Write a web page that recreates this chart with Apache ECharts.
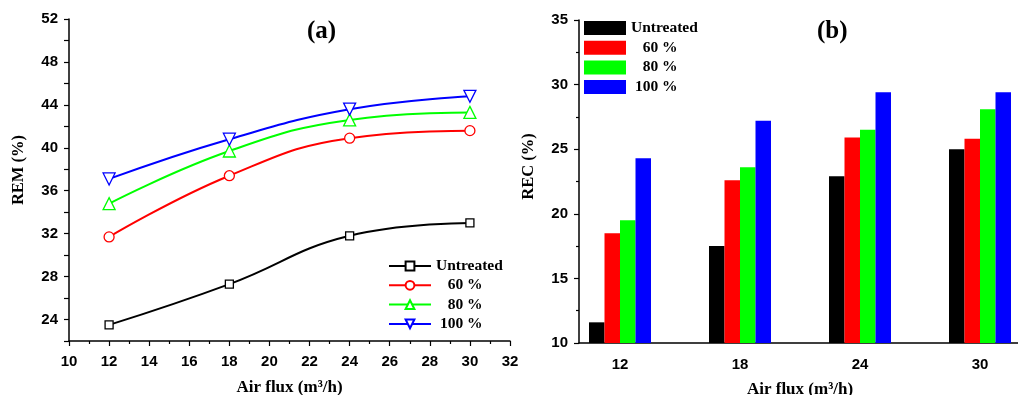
<!DOCTYPE html>
<html>
	<head>
		<meta charset="utf-8">
		<title></title>
		<script src="https://cdn.jsdelivr.net/npm/echarts@6/dist/echarts.min.js"></script>
		<style>
			body{margin:0;background:#fff;}
			#a{position:absolute;left:0;top:0;width:540px;height:395px;}
			#b{position:absolute;left:510px;top:0;width:508px;height:395px;}
		</style>
	</head>
	<body>
		<div id="a"></div>
		<div id="b"></div>

		<script>
			// 数据
			var names = ['Untreated', '60 %', '80 %', '100 %'];
			var colors = ['#000000', '#ff0000', '#00ff00', '#0000ff'];
			var flux = [12, 18, 24, 30];
			var fluxCats = ['12', '18', '24', '30'];

			// (a) REM
			var remUntreated = [23.5, 27.3, 31.8, 33.0];
			var rem60 = [31.7, 37.4, 40.9, 41.6];
			var rem80 = [34.8, 39.7, 42.6, 43.3];
			var rem100 = [37.1, 40.8, 43.6, 44.8];

			// (b) REC
			var recUntreated = [11.6, 17.5, 22.9, 25.0];
			var rec60 = [18.5, 22.6, 25.9, 25.8];
			var rec80 = [19.5, 23.6, 26.5, 28.1];
			var rec100 = [24.3, 27.2, 29.4, 29.4];

			var serif = '"Liberation Serif", "Times New Roman", serif';
			var sans = '"Liberation Sans", Arial, sans-serif';
			var pad = {'Untreated': 'Untreated', '60 %': '   60 %', '80 %': '   80 %', '100 %': ' 100 %'};

			function pairs(ys){
				return ys.map(function(y, i){ return [flux[i], y]; });
			}

			var axisBase = {
				axisLine: {lineStyle: {color: '#000', width: 1.5}},
				axisTick: {length: 5, lineStyle: {color: '#000', width: 1.2}},
				axisLabel: {color: '#000', fontFamily: sans, fontWeight: 'bold', fontSize: 15, margin: 11},
				splitLine: {show: false},
				nameTextStyle: {color: '#000', fontFamily: serif, fontWeight: 'bold', fontSize: 17}
			};
			var legendText = {color: '#000', fontFamily: serif, fontWeight: 'bold', fontSize: 15.5, lineHeight: 14};

			var chartA = echarts.init(document.getElementById('a'));
			var remData = [remUntreated, rem60, rem80, rem100];
			var symbols = ['rect', 'circle', 'triangle', 'triangle'];
			var symSize = [8, 10, 12, 12];
			var symRot = [0, 0, 0, 180];

			chartA.setOption({
				animation: false,
				grid: {left: 69, right: 30, top: 19, bottom: 54, containLabel: false, outerBoundsMode: 'none'},
				graphic: [{
					type: 'text', left: 307, top: 19,
					style: {text: '(a)', font: 'bold 25px ' + serif, fill: '#000'}
				}],
				legend: {
					orient: 'vertical', left: 388, top: 258, padding: 0,
					itemWidth: 42, itemHeight: 11, itemGap: 3.3,
					data: names,
					formatter: function(n){ return pad[n]; },
					textStyle: legendText
				},
				xAxis: Object.assign({}, axisBase, {
					type: 'value', min: 10, max: 32, interval: 2,
					minorTick: {show: true, splitNumber: 2, length: 3, lineStyle: {color: '#000', width: 1.2}},
					axisLabel: Object.assign({}, axisBase.axisLabel, {margin: 13}),
					name: 'Air flux (m³/h)', nameLocation: 'middle', nameGap: 38
				}),
				yAxis: Object.assign({}, axisBase, {
					type: 'value', min: 22, max: 52, interval: 2,
					axisLabel: Object.assign({}, axisBase.axisLabel, {
						formatter: function(v){ return v % 4 === 0 ? v : ''; }
					}),
					name: 'REM (%)', nameLocation: 'middle', nameGap: 42,
					nameTextStyle: Object.assign({}, axisBase.nameTextStyle, {fontSize: 16.5, padding: [0, 0, 0, 20]})
				}),
				series: remData.map(function(d, i){
					return {
						name: names[i], type: 'line', smooth: 0.45,
						data: pairs(d),
						symbol: symbols[i], symbolSize: symSize[i], symbolRotate: symRot[i],
						showAllSymbol: true,
						lineStyle: {color: colors[i], width: 2},
						itemStyle: {color: '#fff', borderColor: colors[i], borderWidth: 1.3}
					};
				})
			});

			var chartB = echarts.init(document.getElementById('b'));
			var recData = [recUntreated, rec60, rec80, rec100];

			chartB.setOption({
				animation: false,
				grid: [
					{left: 50, width: 480, top: 20, bottom: 52, containLabel: false, outerBoundsMode: 'none'},
					{left: 69, right: 0, top: 20, bottom: 52, containLabel: false, outerBoundsMode: 'none'}
				],
				graphic: [{
					type: 'text', left: 307, top: 19,
					style: {text: '(b)', font: 'bold 25px ' + serif, fill: '#000'}
				}],
				legend: {
					orient: 'vertical', left: 74, top: 20, padding: 0,
					icon: 'rect',
					itemWidth: 42, itemHeight: 14, itemGap: 3.7,
					data: names,
					formatter: function(n){ return pad[n]; },
					textStyle: legendText
				},
				xAxis: [
					Object.assign({}, axisBase, {
						type: 'category', gridIndex: 0, data: fluxCats, position: 'bottom',
						axisLine: {show: false},
						axisTick: {length: 5, alignWithLabel: true, lineStyle: {color: '#000', width: 1.2}},
						axisLabel: Object.assign({}, axisBase.axisLabel, {margin: 14}),
						name: 'Air flux (m³/h)', nameLocation: 'middle', nameGap: 38
					}),
					{
						type: 'value', gridIndex: 1, min: 0, max: 1,
						axisLine: {lineStyle: {color: '#000', width: 1.5}},
						axisTick: {show: false}, axisLabel: {show: false}, splitLine: {show: false}
					},
					{
						// 类目间的内侧短刻度
						type: 'category', gridIndex: 0, data: fluxCats, position: 'bottom',
						axisLine: {show: false}, axisLabel: {show: false},
						axisTick: {inside: true, length: 3, lineStyle: {color: '#000', width: 1.2},
							interval: function(i){ return i !== 0; }}
					}
				],
				yAxis: [
					{type: 'value', gridIndex: 0, min: 10, max: 35, show: false},
					Object.assign({}, axisBase, {
						type: 'value', gridIndex: 1, min: 10, max: 35, interval: 5,
						minorTick: {show: true, splitNumber: 2, length: 3, lineStyle: {color: '#000', width: 1.2}},
						name: 'REC (%)', nameLocation: 'middle', nameGap: 42,
						nameTextStyle: Object.assign({}, axisBase.nameTextStyle, {fontSize: 16.5, padding: [0, 0, 0, 30]})
					})
				],
				series: recData.map(function(d, i){
					return {
						name: names[i], type: 'bar', xAxisIndex: 0, yAxisIndex: 0,
						data: d, barWidth: 15.5, barGap: '0%',
						itemStyle: {color: colors[i]}
					};
				})
			});
		</script>
	</body>
</html>
